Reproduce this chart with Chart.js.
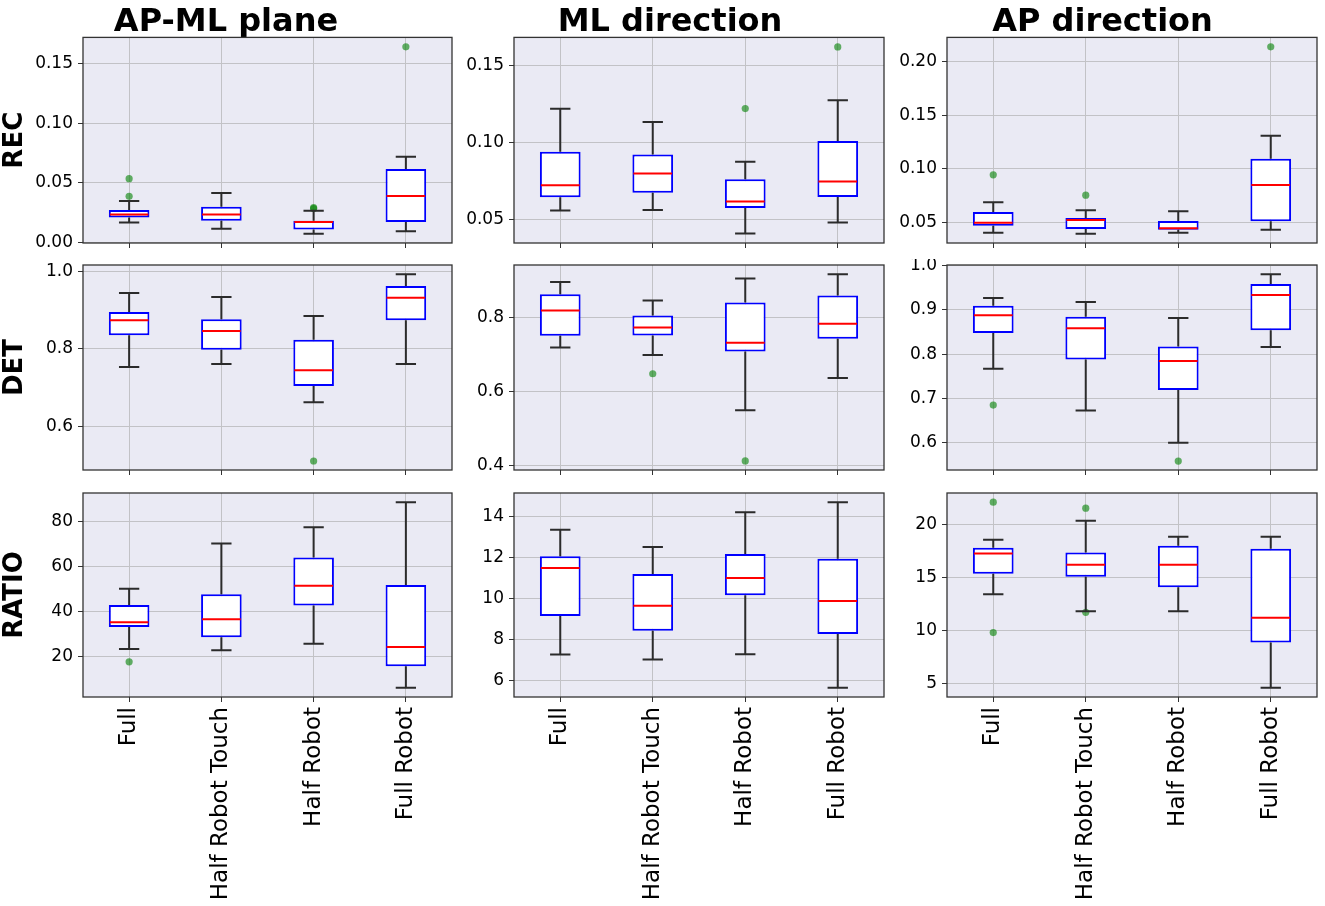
<!DOCTYPE html>
<html>
<head>
<meta charset="utf-8">
<script src="https://cdn.jsdelivr.net/npm/chart.js@4.4.0/dist/chart.umd.min.js"></script>
<style>
    body { margin: 0; background: #fff; width: 1325px; height: 906px; overflow: hidden; position: relative; }
    canvas { position: absolute; }
</style>
</head>
<body>
<script>
// categories and labels
const categories = ['Full', 'Half Robot Touch', 'Half Robot', 'Full Robot'];
const columnTitles = ['AP-ML plane', 'ML direction', 'AP direction'];
const rowLabels = ['REC', 'DET', 'RATIO'];

// each box: [lower whisker, Q1, median, Q3, upper whisker]
const recApMlBoxes = [[0.0168, 0.0210, 0.0235, 0.0272, 0.0348], [0.0115, 0.0182, 0.0235, 0.0300, 0.0415], [0.0073, 0.0109, 0.0171, 0.0182, 0.0266], [0.0093, 0.0171, 0.0390, 0.0617, 0.0720]];
const recApMlOutliers = [[0.0387, 0.0535], [], [0.0285, 0.0292], [0.1643]];
const recMlBoxes = [[0.0561, 0.0647, 0.0725, 0.0942, 0.1221], [0.0565, 0.0677, 0.0801, 0.0924, 0.1136], [0.0411, 0.0578, 0.0619, 0.0764, 0.0877], [0.0483, 0.0649, 0.0749, 0.1013, 0.1277]];
const recMlOutliers = [[], [], [0.1223], [0.1623]];
const recApBoxes = [[0.0403, 0.0469, 0.0497, 0.0597, 0.0687], [0.0394, 0.0438, 0.0522, 0.0540, 0.0612], [0.0403, 0.0431, 0.0444, 0.0512, 0.0603], [0.0431, 0.0509, 0.0849, 0.1092, 0.1308]];
const recApOutliers = [[0.0943], [0.0753], [], [0.2137]];

const detApMlBoxes = [[0.7534, 0.8353, 0.8741, 0.8957, 0.9448], [0.7612, 0.7983, 0.8466, 0.8767, 0.9345], [0.6621, 0.7043, 0.7448, 0.8241, 0.8853], [0.7612, 0.8741, 0.9328, 0.9629, 0.9931]];
const detApMlOutliers = [[], [], [0.5103], []];
const detMlBoxes = [[0.7198, 0.7514, 0.8198, 0.8640, 0.8973], [0.6991, 0.7523, 0.7739, 0.8063, 0.8468], [0.5495, 0.7090, 0.7324, 0.8414, 0.9063], [0.6369, 0.7432, 0.7838, 0.8604, 0.9180]];
const detMlOutliers = [[], [0.6486], [0.4126], []];
const detApBoxes = [[0.7672, 0.8478, 0.8878, 0.9096, 0.9269], [0.6731, 0.7883, 0.8584, 0.8847, 0.9179], [0.6000, 0.7190, 0.7846, 0.8177, 0.8817], [0.8162, 0.8539, 0.9337, 0.9586, 0.9804]];
const detApOutliers = [[0.6851], [], [0.5586], []];

const ratioApMlBoxes = [[23.25, 33.0, 35.1, 42.8, 50.0], [22.7, 28.4, 36.4, 47.5, 70.1], [25.6, 42.5, 51.3, 63.9, 77.3], [5.96, 15.6, 24.1, 51.6, 88.4]];
const ratioApMlOutliers = [[17.5], [], [], []];
const ratioMlBoxes = [[7.27, 9.15, 11.49, 12.06, 13.35], [7.02, 8.42, 9.64, 11.19, 12.51], [7.28, 10.16, 11.00, 12.17, 14.21], [5.64, 8.26, 9.88, 11.94, 14.70]];
const ratioMlOutliers = [[], [], [], []];
const ratioApBoxes = [[13.41, 15.35, 17.27, 17.80, 18.56], [11.81, 15.07, 16.20, 17.36, 20.34], [11.81, 14.07, 16.20, 17.99, 18.84], [4.59, 8.86, 11.21, 17.71, 18.84]];
const ratioApOutliers = [[22.1, 9.8], [21.54, 11.71], [], []];

// y tick labels and axis limits per panel
const recApMlTicks = ['0.00', '0.05', '0.10', '0.15'];
const recMlTicks = ['0.05', '0.10', '0.15'];
const recApTicks = ['0.05', '0.10', '0.15', '0.20'];
const detApMlTicks = ['0.6', '0.8', '1.0'];
const detMlTicks = ['0.4', '0.6', '0.8'];
const detApTicks = ['0.6', '0.7', '0.8', '0.9', '1.0'];
const ratioApMlTicks = ['20', '40', '60', '80'];
const ratioMlTicks = ['6', '8', '10', '12', '14'];
const ratioApTicks = ['5', '10', '15', '20'];

const recLimits = [[-0.0005, 0.1722], [0.0350, 0.1685], [0.0307, 0.2225]];
const detLimits = [[0.4870, 1.0172], [0.3880, 0.9430], [0.5385, 1.0015]];
const ratioLimits = [[1.9, 92.5], [5.19, 15.15], [3.72, 22.97]];

const panelBoxes = [
    [recApMlBoxes, recMlBoxes, recApBoxes],
    [detApMlBoxes, detMlBoxes, detApBoxes],
    [ratioApMlBoxes, ratioMlBoxes, ratioApBoxes]
];
const panelOutliers = [
    [recApMlOutliers, recMlOutliers, recApOutliers],
    [detApMlOutliers, detMlOutliers, detApOutliers],
    [ratioApMlOutliers, ratioMlOutliers, ratioApOutliers]
];
const panelTicks = [
    [recApMlTicks, recMlTicks, recApTicks],
    [detApMlTicks, detMlTicks, detApTicks],
    [ratioApMlTicks, ratioMlTicks, ratioApTicks]
];
const panelLimits = [recLimits, detLimits, ratioLimits];

// page layout
const colLeft = [0, 456, 888];
const colWidth = [456, 432, 437];
const yAxisWidth = [83, 58, 59];
const padRight = [4, 4, 8];
const rowTop = [0, 259, 487];
const rowHeight = [249, 217, 419];
const xAxisHeight = [6, 6, 209];

const FONT = "'DejaVu Sans', 'Liberation Sans', sans-serif";

const boxPlotPlugin = {
    id: 'boxPlot',
    beforeDraw(chart) {
        const { ctx, chartArea: a } = chart;
        ctx.save();
        ctx.fillStyle = '#eaeaf4';
        ctx.fillRect(a.left, a.top, a.right - a.left, a.bottom - a.top);
        ctx.restore();
    },
    afterDraw(chart, args, opts) {
        const { ctx, chartArea: a } = chart;
        const y = chart.scales.y;
        const meta = chart.getDatasetMeta(0);
        ctx.save();
        ctx.lineWidth = 2;
        meta.data.forEach((bar, i) => {
            const [low, q1, med, q3, high] = opts.boxes[i];
            const half = bar.width / 2;
            const cap = bar.width / 4;
            const yLow = y.getPixelForValue(low);
            const yHigh = y.getPixelForValue(high);
            ctx.strokeStyle = '#2b2b2b';
            ctx.beginPath();
            ctx.moveTo(bar.x, y.getPixelForValue(q3));
            ctx.lineTo(bar.x, yHigh);
            ctx.moveTo(bar.x, y.getPixelForValue(q1));
            ctx.lineTo(bar.x, yLow);
            ctx.moveTo(bar.x - cap, yHigh);
            ctx.lineTo(bar.x + cap, yHigh);
            ctx.moveTo(bar.x - cap, yLow);
            ctx.lineTo(bar.x + cap, yLow);
            ctx.stroke();

            const yMed = y.getPixelForValue(med);
            ctx.strokeStyle = '#ff0000';
            ctx.beginPath();
            ctx.moveTo(bar.x - half + 1, yMed);
            ctx.lineTo(bar.x + half - 1, yMed);
            ctx.stroke();
        });
        ctx.strokeStyle = '#333333';
        ctx.lineWidth = 1.3;
        ctx.strokeRect(a.left, a.top, a.right - a.left, a.bottom - a.top);
        ctx.restore();
    }
};

function makePanel(r, c) {
    const boxes = panelBoxes[r][c];
    const outliers = panelOutliers[r][c];
    const ticks = panelTicks[r][c];
    const [yMin, yMax] = panelLimits[r][c];

    const canvas = document.createElement('canvas');
    canvas.width = colWidth[c];
    canvas.height = rowHeight[r];
    canvas.style.left = colLeft[c] + 'px';
    canvas.style.top = rowTop[r] + 'px';
    canvas.style.width = colWidth[c] + 'px';
    canvas.style.height = rowHeight[r] + 'px';
    document.body.appendChild(canvas);

    const outlierPoints = [];
    outliers.forEach((list, i) => list.forEach(v => outlierPoints.push({ x: categories[i], y: v })));

    new Chart(canvas, {
        type: 'bar',
        data: {
            labels: categories,
            datasets: [{
                data: boxes.map(b => [b[1], b[3]]),
                backgroundColor: '#ffffff',
                borderColor: '#0000ff',
                borderWidth: 2,
                borderSkipped: false,
                barPercentage: 0.44,
                categoryPercentage: 1
            }, {
                type: 'scatter',
                data: outlierPoints,
                backgroundColor: 'rgba(0,128,0,0.6)',
                borderColor: 'rgba(0,128,0,0.6)',
                borderWidth: 0,
                pointRadius: 3.6
            }]
        },
        options: {
            responsive: false,
            animation: false,
            events: [],
            layout: { padding: { top: r === 0 ? 0 : 6, right: padRight[c], left: 0, bottom: 0 } },
            plugins: {
                legend: { display: false },
                tooltip: { enabled: false },
                title: {
                    display: r === 0,
                    text: columnTitles[c],
                    color: '#000',
                    font: { family: FONT, size: 32, weight: 'bold', lineHeight: 0.95 },
                    padding: { top: 7, bottom: 0 }
                },
                boxPlot: { boxes }
            },
            scales: {
                x: {
                    z: 1,
                    offset: true,
                    grid: { offset: false, color: '#c2c2c6', lineWidth: 1, tickLength: 5, tickColor: '#333', tickWidth: 1 },
                    border: { display: false },
                    ticks: {
                        display: r === 2,
                        autoSkip: false,
                        minRotation: 90,
                        maxRotation: 90,
                        padding: 5,
                        color: '#000',
                        font: { family: FONT, size: 23 }
                    },
                    afterFit(scale) {
                        scale.height = xAxisHeight[r];
                        scale.paddingLeft = 0;
                        scale.paddingRight = 0;
                    }
                },
                y: {
                    z: 1,
                    min: yMin,
                    max: yMax,
                    grid: { color: '#c2c2c6', lineWidth: 1, tickLength: 5, tickColor: '#333', tickWidth: 1 },
                    border: { display: false },
                    title: {
                        display: c === 0,
                        text: rowLabels[r],
                        color: '#000',
                        font: { family: FONT, size: 26, weight: 'bold' },
                        padding: { top: 0, bottom: 0 }
                    },
                    ticks: {
                        padding: 5,
                        color: '#000',
                        font: { family: FONT, size: 17 },
                        callback: (value, index) => ticks[index]
                    },
                    afterBuildTicks(scale) {
                        scale.ticks = ticks.map(t => ({ value: parseFloat(t) }));
                    },
                    afterFit(scale) {
                        scale.width = yAxisWidth[c];
                        scale.paddingTop = 0;
                        scale.paddingBottom = 0;
                    }
                }
            }
        },
        plugins: [boxPlotPlugin]
    });
}

for (let r = 0; r < 3; r++) {
    for (let c = 0; c < 3; c++) {
        makePanel(r, c);
    }
}
</script>
</body>
</html>
